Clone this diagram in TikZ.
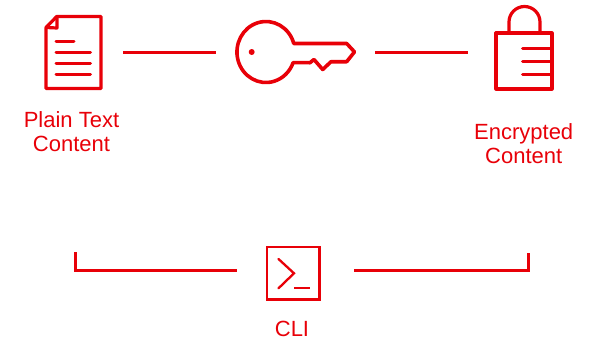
\documentclass[tikz,border=0pt]{standalone}
\usepackage{fontspec}
\setmainfont{Liberation Sans}
\definecolor{rd}{RGB}{232,0,8}
\tikzset{
 lbl/.style={text=rd,font=\fontsize{22pt}{24pt}\selectfont,align=center,inner sep=0pt,anchor=south,text depth=0pt},
 ic/.style={draw=rd,line width=3.2pt,line join=round},
 bar/.style={draw=rd,line width=3pt,line cap=round},
 conn/.style={draw=rd,line width=3pt},
 termline/.style={draw=rd,line width=2.3pt,line cap=round},
}
\begin{document}
\begin{tikzpicture}[x=1pt,y=-1pt]
\useasboundingbox (0,0) rectangle (598,340);
% document
\draw[ic] (56.7,16.5) -- (101,16.5) -- (101,88.5) -- (46,88.5) -- (46,27.5) -- cycle;
\draw[ic] (57,16.5) -- (57,28) -- (46,27.5);
\draw[bar] (56,41.3) -- (74,41.3) (56,52.3) -- (90.5,52.3) (56,63.3) -- (90.5,63.3) (56,74.7) -- (90.5,74.7);
\coordinate (docr) at (123,52);
\coordinate (keyl) at (216,52);
\draw[conn] (docr) -- (keyl);
% key
\draw[ic,line width=3.6pt] (293.8,43.5) arc[start angle=16.2,end angle=339.5,x radius=29pt,y radius=30.5pt]
  -- (310,62.7) -- (314,59.5) -- (322.7,69.5) -- (331,61.7) -- (346.7,61.7) -- (354.5,51.9) -- (346.7,43.5) -- cycle;
\fill[rd] (251.7,52) circle (3);
\coordinate (keyr) at (375,52);
\coordinate (lockl) at (468,52);
\draw[conn] (keyr) -- (lockl);
% lock
\draw[ic] (496,33) rectangle (552,89);
\draw[ic] (509,33) -- (509,22) arc[start angle=180,end angle=0,radius=15.5pt] -- (540,33);
\draw[bar] (522.5,48.7) -- (552,48.7) (522.5,61.3) -- (552,61.3) (522.5,74) -- (552,74);
\node[lbl] (pt) at (71.5,152) {Plain Text\\Content};
\node[lbl] (ec) at (523.7,164) {Encrypted\\Content};
\node[lbl] (cli) at (292,336.5) {CLI};
% terminal
\node[draw=rd,line width=2.4pt,minimum size=52.5pt,inner sep=0pt] (term) at (293.3,273.2) {};
\draw[termline] (278.5,259) -- (294,273.3) -- (278.5,288.3);
\draw[termline,line cap=butt] (294,287.7) -- (310,287.7);
% bottom connectors
\coordinate (la) at (75,252);
\coordinate (lb) at (75,270.5);
\coordinate (lc) at (237,270.5);
\coordinate (ra) at (354,270.5);
\coordinate (rb) at (528.5,270.5);
\coordinate (rc) at (528.5,253);
\draw[conn,line join=miter] (la) -- (lb) -- (lc);
\draw[conn,line join=miter] (ra) -- (rb) -- (rc);
\end{tikzpicture}
\end{document}
